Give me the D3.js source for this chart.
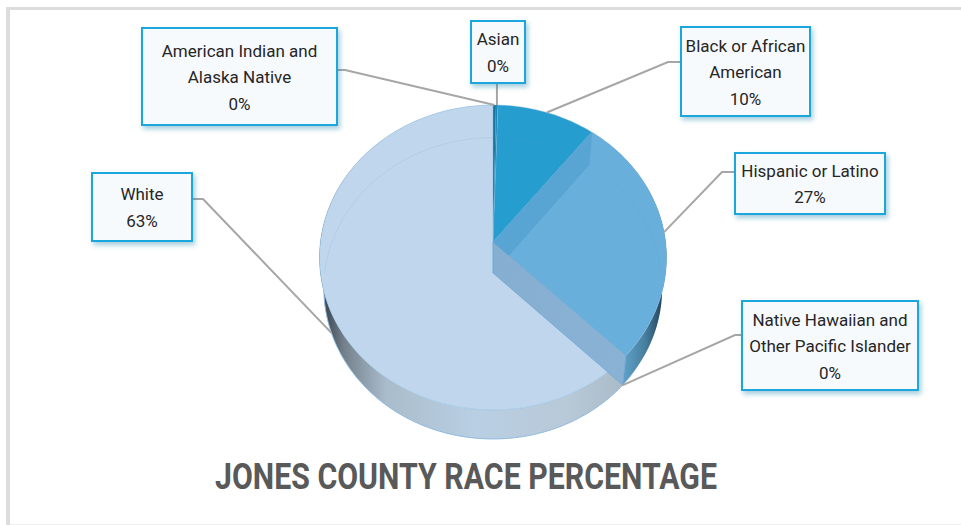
<!DOCTYPE html>
<html>
<head>
<meta charset="utf-8">
<script src="https://cdn.jsdelivr.net/npm/d3@7"></script>
<style>
    html, body { margin: 0; padding: 0; background: #fff; }
    svg { display: block; }
    text { font-family: Roboto, sans-serif; }
</style>
</head>
<body>
<svg id="chart" width="961" height="525"></svg>
<script>

// Values (clockwise from 12 o'clock)
const categories = ["American Indian and Alaska Native", "Asian", "Black or African American",
    "Hispanic or Latino", "Native Hawaiian and Other Pacific Islander", "White"];
const percentages = [0.3, 0.2, 10.1, 26.7, 0.1, 62.6];

// Colours of the top faces
const sliceColours = ["#16759f", "#1b86b6", "#259dcf", "#69afdc", "#8ab4d6", "#bfd6ec"];

// Line breaks of the labels
const labelLines = [["American Indian and", "Alaska Native"], ["Asian"], ["Black or African", "American"],
    ["Hispanic or Latino"], ["Native Hawaiian and", "Other Pacific Islander"], ["White"]];

// Label boxes: x, y, w, h, elbow of the leader line, side of the box it leaves from, lands on lower rim?
const labelBoxes = [
    { x: 142, y: 28, w: 195, h: 97, elbow: 345, side: "right", ly: 70, lower: false },
    { x: 471, y: 21, w: 54, h: 62, elbow: null, side: "bottom", ly: 83, lower: false },
    { x: 681, y: 27, w: 129, h: 89, elbow: 668, side: "left", ly: 62, lower: false },
    { x: 735, y: 153, w: 150, h: 61, elbow: 722, side: "left", ly: 172, lower: false },
    { x: 742, y: 301, w: 176, h: 89, elbow: 735, side: "left", ly: 335, lower: true },
    { x: 92, y: 173, w: 100, h: 68, elbow: 203, side: "right", ly: 199, lower: true }
];

const svg = d3.select("#chart");
const width = 961, height = 525;

// Frame of the screenshot
svg.append("rect").attr("x", 6).attr("y", 7).attr("width", width - 6).attr("height", 3).attr("fill", "#dcdcdc");
svg.append("rect").attr("x", 6).attr("y", 7).attr("width", 4).attr("height", height - 7).attr("fill", "#dcdcdc");
svg.append("rect").attr("x", 10).attr("y", 524).attr("width", width - 10).attr("height", 1).attr("fill", "#eeeeee");

// Pie in perspective
const cx = 493, apexY = 242, depth = 31;
const kx = 172.6, ky = 150.9, persp = 0.1016;

const pie = d3.pie().sort(null).value(d => d);
const slices = pie(percentages);

// Point on the disc at angle a and radius r (0-1), lifted to the top or bottom face
function project(a, r, lower) {
    const u = r * Math.sin(a), v = r * Math.cos(a);
    const w = 1 + persp * v;
    const sx = lower ? 0.975 : 1, sy = lower ? 0.988 : 1;
    return [cx + sx * kx * u / w, apexY + (lower ? depth : 0) - sy * ky * v / w];
}

function arcPoints(a0, a1, lower) {
    const n = Math.max(2, Math.ceil((a1 - a0) / 0.02));
    return d3.range(n + 1).map(i => project(a0 + (a1 - a0) * i / n, 1, lower));
}

const line = d3.line().curve(d3.curveLinearClosed);

const defs = svg.append("defs");

function gradient(id, stops, x1, x2) {
    const g = defs.append("linearGradient").attr("id", id).attr("gradientUnits", "userSpaceOnUse")
        .attr("x1", x1).attr("x2", x2).attr("y1", 0).attr("y2", 0);
    stops.forEach(s => g.append("stop").attr("offset", s[0]).attr("stop-color", s[1]));
}

gradient("wallWhite", [[0, "#3f4c58"], [0.06, "#74818c"], [0.2, "#a9bccb"], [0.5, "#b9cfe3"], [0.8, "#b8c9d8"], [1, "#a9bac8"]], 326, 625);
gradient("wallBlue", [[0, "#5f9fc6"], [0.55, "#47809f"], [1, "#24465e"]], 624, 662);
gradient("cutWall", [[0, "#85aed0"], [1, "#8ab2d4"]], 493, 626);

const shadow = defs.append("filter").attr("id", "boxShadow")
    .attr("x", "-20%").attr("y", "-20%").attr("width", "140%").attr("height", "140%");
shadow.append("feDropShadow").attr("dx", 2).attr("dy", 3).attr("stdDeviation", 2.5)
    .attr("flood-color", "#1e7fa8").attr("flood-opacity", 0.4);

const blueSlice = slices[3], whiteSlice = slices[5];

// Outer walls
const pieGroup = svg.append("g");
[[whiteSlice, "url(#wallWhite)"], [slices[4], "#9ab6cd"], [blueSlice, "url(#wallBlue)"]].forEach(([d, fill]) => {
    const top = arcPoints(d.startAngle, d.endAngle, false);
    const bottom = arcPoints(d.startAngle, d.endAngle, true).reverse();
    pieGroup.append("path").attr("d", line(top.concat(bottom))).attr("fill", fill);
});

// Lower rim edge
pieGroup.append("path")
    .attr("d", d3.line()(arcPoints(Math.PI * 0.72, Math.PI * 1.5, true)))
    .attr("fill", "none").attr("stroke", "#8fbbe0").attr("stroke-width", 1);

// Top faces
pieGroup.selectAll("path.face")
    .data(slices)
    .join("path")
    .attr("class", "face")
    .attr("d", d => line([project(0, 0, false)].concat(arcPoints(d.startAngle, d.endAngle, false))))
    .attr("fill", (d, i) => sliceColours[i])
    .attr("stroke", (d, i) => i < 2 ? "none" : "#7fb6e0")
    .attr("stroke-opacity", 0.6)
    .attr("stroke-width", 0.7);

// Far edge of the bottom face seen through the glass
pieGroup.append("path")
    .attr("d", d3.line()(arcPoints(-Math.PI / 2, Math.PI / 2, true)))
    .attr("fill", "none").attr("stroke", "#5f8fb5").attr("stroke-opacity", 0.12).attr("stroke-width", 1);

// Cut walls at the apex
function cutWall(angle) {
    return line([project(angle, 0, false), project(angle, 1, false), project(angle, 1, true), project(angle, 0, true)]);
}
pieGroup.append("path").attr("d", cutWall(blueSlice.startAngle))
    .attr("fill", "#58a5d3").attr("stroke", "#4f9fd0").attr("stroke-opacity", 0.5).attr("stroke-width", 0.7);
pieGroup.append("path").attr("d", cutWall(blueSlice.endAngle))
    .attr("fill", "url(#cutWall)").attr("stroke", "#5ea3d6").attr("stroke-opacity", 0.7).attr("stroke-width", 0.8);

// Leader lines
const leaderLine = d3.line();
const leaders = svg.append("g").attr("fill", "none").attr("stroke", "#a6a6a6").attr("stroke-width", 2);
slices.forEach((d, i) => {
    const b = labelBoxes[i];
    const mid = (d.startAngle + d.endAngle) / 2;
    const end = project(mid, 1, b.lower);
    let pts;
    if (b.side === "bottom") pts = [[end[0], b.ly], end];
    else if (b.side === "right") pts = [[b.x + b.w, b.ly], [b.elbow, b.ly], end];
    else pts = [[b.x, b.ly], [b.elbow, b.ly], end];
    leaders.append("path").attr("d", leaderLine(pts));
});

// Label boxes
const fmt = d3.format(".0%");
const labels = svg.append("g").selectAll("g")
    .data(categories)
    .join("g");

labels.append("rect")
    .attr("x", (d, i) => labelBoxes[i].x)
    .attr("y", (d, i) => labelBoxes[i].y)
    .attr("width", (d, i) => labelBoxes[i].w)
    .attr("height", (d, i) => labelBoxes[i].h)
    .attr("fill", "#f6fafd")
    .attr("stroke", "#1ea7dc")
    .attr("stroke-width", 2)
    .attr("filter", "url(#boxShadow)");

const lineHeight = 26.5;
labels.each(function (d, i) {
    const b = labelBoxes[i];
    const lines = labelLines[i].concat(fmt(percentages[i] / 100));
    const startY = b.y + b.h / 2 - (lines.length - 1) * lineHeight / 2 + 6.5;
    d3.select(this).selectAll("text")
        .data(lines)
        .join("text")
        .attr("x", b.x + b.w / 2)
        .attr("y", (l, j) => startY + j * lineHeight)
        .attr("text-anchor", "middle")
        .attr("font-size", 17)
        .attr("fill", "#262626")
        .text(l => l);
});

// Title
svg.append("text")
    .attr("x", 466)
    .attr("y", 489)
    .attr("text-anchor", "middle")
    .attr("font-size", 37)
    .attr("font-weight", 700)
    .attr("fill", "#595959")
    .attr("textLength", 502)
    .attr("lengthAdjust", "spacingAndGlyphs")
    .text("JONES COUNTY RACE PERCENTAGE");

</script>
</body>
</html>
